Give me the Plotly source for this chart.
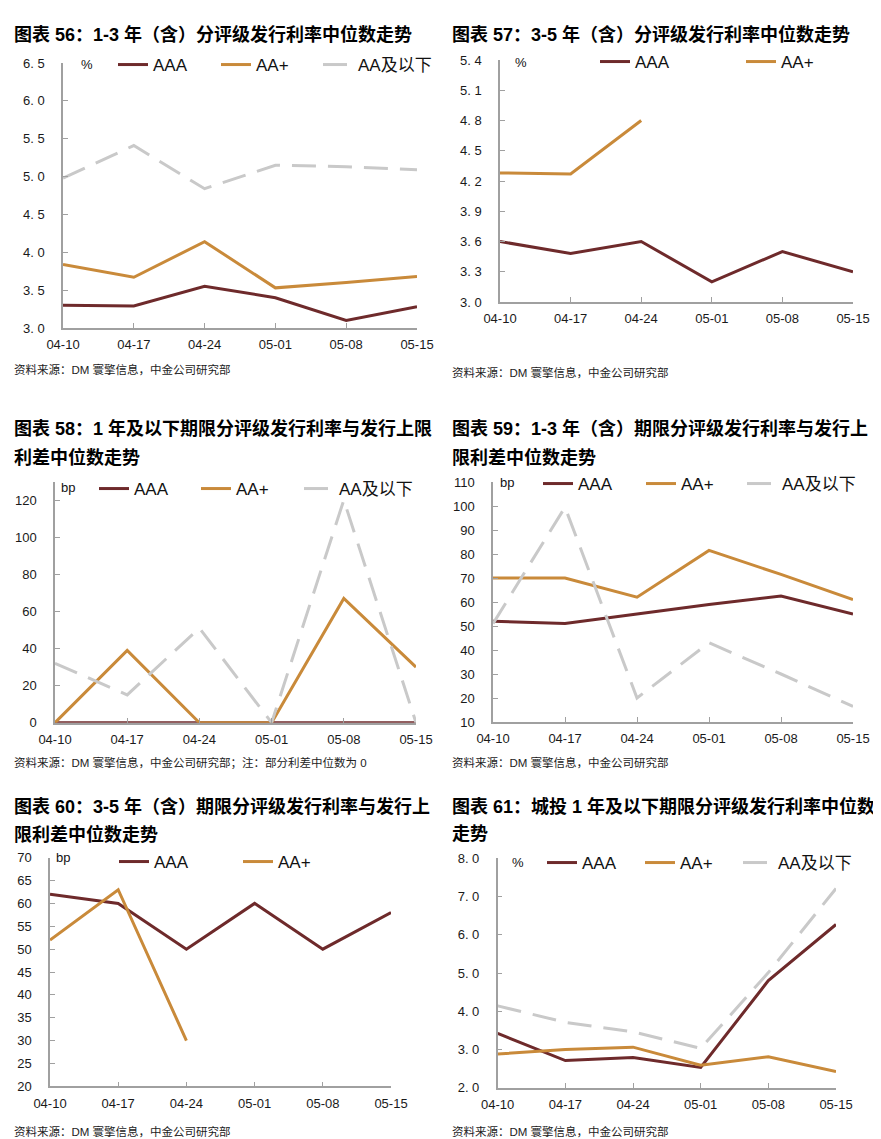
import plotly.graph_objects as go

W, H = 881, 1139
OFF = 8  # page body margin in the browser

dates = ["04-10", "04-17", "04-24", "05-01", "05-08", "05-15"]

# 图表56
c56_aaa = [3.30, 3.29, 3.55, 3.40, 3.10, 3.28]
c56_aap = [3.84, 3.67, 4.14, 3.53, 3.60, 3.68]
c56_aa = [4.98, 5.41, 4.84, 5.15, 5.13, 5.09]
# 图表57
c57_aaa = [3.60, 3.48, 3.60, 3.20, 3.50, 3.30]
c57_aap = [4.28, 4.27, 4.80]
# 图表58
c58_aaa = [0, 0, 0, 0, 0, 0]
c58_aap = [0, 39, 0, 0, 67, 30]
c58_aa = [32, 15, 51, 0, 120, 0]
# 图表59
c59_aaa = [52, 51, 55, 59, 62.5, 55]
c59_aap = [70, 70, 62, 81.5, 71.5, 61]
c59_aa = [51, 99.5, 20, 43, 30, 16.5]
# 图表60
c60_aaa = [62, 60, 50, 60, 50, 58]
c60_aap = [52, 63, 30]
# 图表61
c61_aaa = [3.42, 2.71, 2.79, 2.53, 4.80, 6.27]
c61_aap = [2.88, 3.00, 3.06, 2.59, 2.81, 2.42]
c61_aa = [4.14, 3.71, 3.46, 3.03, 5.01, 7.21]

y56_ticks = [3.0, 3.5, 4.0, 4.5, 5.0, 5.5, 6.0, 6.5]
y57_ticks = [3.0, 3.3, 3.6, 3.9, 4.2, 4.5, 4.8, 5.1, 5.4]
y58_ticks = [0, 20, 40, 60, 80, 100, 120]
y59_ticks = [10, 20, 30, 40, 50, 60, 70, 80, 90, 100, 110]
y60_ticks = [20, 25, 30, 35, 40, 45, 50, 55, 60, 65, 70]
y61_ticks = [2.0, 3.0, 4.0, 5.0, 6.0, 7.0, 8.0]

names = ["AAA", "AA+", "AA及以下"]

titles = {
    56: ["图表 56：1-3 年（含）分评级发行利率中位数走势"],
    57: ["图表 57：3-5 年（含）分评级发行利率中位数走势"],
    58: ["图表 58：1 年及以下期限分评级发行利率与发行上限", "利差中位数走势"],
    59: ["图表 59：1-3 年（含）期限分评级发行利率与发行上", "限利差中位数走势"],
    60: ["图表 60：3-5 年（含）期限分评级发行利率与发行上", "限利差中位数走势"],
    61: ["图表 61：城投 1 年及以下期限分评级发行利率中位数", "走势"],
}
src = "资料来源：DM 寰擎信息，中金公司研究部"
sources = {56: src, 57: src, 58: src + "；注：部分利差中位数为 0",
           59: src, 60: src, 61: src}

FONT = "Liberation Sans, Arial, Noto Sans CJK SC, sans-serif"
C_AAA = "#6E2A2B"
C_AAP = "#C98A3A"
C_AA = "#C9C9C9"
AX = "#A0A0A0"

# panel layout in reference pixels: plot box (x0, x1, ytop, ybottom);
# leg = (legend row y, [text start x of each legend entry])
panels = [
    dict(id=56, box=(63, 417, 63, 328), rng=[3.0, 6.5], ticks=y56_ticks, fmt=".1f",
         unit="%", unit_xy=(87, 65), series=[c56_aaa, c56_aap, c56_aa],
         leg=(65, [154, 257, 359]), tx=12, ty=[34], sy=370),
    dict(id=57, box=(500, 853, 60, 302), rng=[3.0, 5.4], ticks=y57_ticks, fmt=".1f",
         unit="%", unit_xy=(521, 63), series=[c57_aaa, c57_aap],
         leg=(62, [636, 782]), tx=450, ty=[34], sy=373),
    dict(id=58, box=(55, 416, 481.5, 722.7), rng=[0, 130], ticks=y58_ticks, fmt="d",
         unit="bp", unit_xy=(68, 487), series=[c58_aaa, c58_aap, c58_aa],
         leg=(489, [135, 237, 340]), tx=12, ty=[428, 457], sy=762),
    dict(id=59, box=(493, 853, 482, 722), rng=[10, 110], ticks=y59_ticks, fmt="d",
         unit="bp", unit_xy=(507, 483), series=[c59_aaa, c59_aap, c59_aa],
         leg=(484, [579, 682, 783]), tx=450, ty=[428, 457], sy=762),
    dict(id=60, box=(50, 391, 857.7, 1086.3), rng=[20, 70], ticks=y60_ticks, fmt="d",
         unit="bp", unit_xy=(63, 857), series=[c60_aaa, c60_aap],
         leg=(862, [155, 279]), tx=12, ty=[806, 834], sy=1131),
    dict(id=61, box=(497.7, 836, 858.3, 1087.7), rng=[2.0, 8.0], ticks=y61_ticks, fmt=".1f",
         unit="%", unit_xy=(518, 862), series=[c61_aaa, c61_aap, c61_aa],
         leg=(863, [583, 681, 779]), tx=450, ty=[806, 834], sy=1131),
]

fig = go.Figure()
annotations = []
layout = {}
styles = [dict(color=C_AAA, width=3),
          dict(color=C_AAP, width=3),
          dict(color=C_AA, width=3, dash="24px,12px")]


def px(x):
    return (x - OFF) / W


def py(y):
    return 1 - (y - OFF) / H


leg_n = 0
for i, p in enumerate(panels):
    k = i + 1
    xa = "x" if k == 1 else f"x{k}"
    ya = "y" if k == 1 else f"y{k}"
    x0, x1, yt, yb = p["box"]
    ly, lxs = p["leg"]
    for j, vals in enumerate(p["series"]):
        leg_n += 1
        lg = "legend" if leg_n == 1 else f"legend{leg_n}"
        fig.add_trace(go.Scatter(
            x=dates[:len(vals)], y=vals, mode="lines", name=names[j],
            line=styles[j], xaxis=xa, yaxis=ya, legend=lg, showlegend=True,
            hoverinfo="skip"))
        layout[lg] = dict(
            orientation="h", x=px(lxs[j] - 41), y=py(ly),
            xanchor="left", yanchor="middle", xref="paper", yref="paper",
            bgcolor="rgba(0,0,0,0)",
            font=dict(family=FONT, size=17, color="#111111"),
            itemclick=False, itemdoubleclick=False)
    if p["fmt"] == "d":
        ttext = [str(int(v)) for v in p["ticks"]]
    else:
        ttext = [f"{v:.1f}".replace(".", ". ") for v in p["ticks"]]
    layout["xaxis" if k == 1 else f"xaxis{k}"] = dict(
        domain=[px(x0), px(x1)], anchor=ya, type="category",
        categoryorder="array", categoryarray=dates, range=[0, 5],
        showline=True, linecolor=AX, linewidth=1.5, ticks="inside", ticklen=5,
        tickcolor=AX, tickwidth=1, showgrid=False, zeroline=False,
        tickfont=dict(family=FONT, size=13, color="#1a1a1a"),
        ticklabelstandoff=4, fixedrange=True, automargin=False)
    layout["yaxis" if k == 1 else f"yaxis{k}"] = dict(
        domain=[py(yb), py(yt)], anchor=xa, range=p["rng"],
        tickvals=p["ticks"], ticktext=ttext,
        showline=True, linecolor=AX, linewidth=1.5, ticks="inside", ticklen=5,
        tickcolor=AX, tickwidth=1, showgrid=False, zeroline=False,
        tickfont=dict(family=FONT, size=13, color="#1a1a1a"),
        ticklabelstandoff=14, fixedrange=True, automargin=False)
    # unit label
    ux, uy = p["unit_xy"]
    annotations.append(dict(
        x=px(ux), y=py(uy), xref="paper", yref="paper", text=p["unit"],
        showarrow=False, xanchor="center", yanchor="middle",
        font=dict(family=FONT, size=13, color="#111111")))
    # title lines
    for t, ty in zip(titles[p["id"]], p["ty"]):
        annotations.append(dict(
            x=px(p["tx"]), y=py(ty), xref="paper", yref="paper",
            text=f"<b>{t}</b>", showarrow=False, xanchor="left", yanchor="middle",
            font=dict(family="Liberation Sans, Noto Sans CJK SC, sans-serif",
                      size=18, color="#000000")))
    annotations.append(dict(
        x=px(p["tx"]), y=py(p["sy"]), xref="paper", yref="paper",
        text=sources[p["id"]], showarrow=False, xanchor="left", yanchor="middle",
        font=dict(family="Liberation Sans, Noto Sans CJK SC, sans-serif",
                  size=11.5, color="#222222")))

fig.update_layout(
    width=W, height=H, margin=dict(l=0, r=0, t=0, b=0, pad=0, autoexpand=False),
    paper_bgcolor="white", plot_bgcolor="white",
    annotations=annotations, **layout)

fig.write_html("out.html")
